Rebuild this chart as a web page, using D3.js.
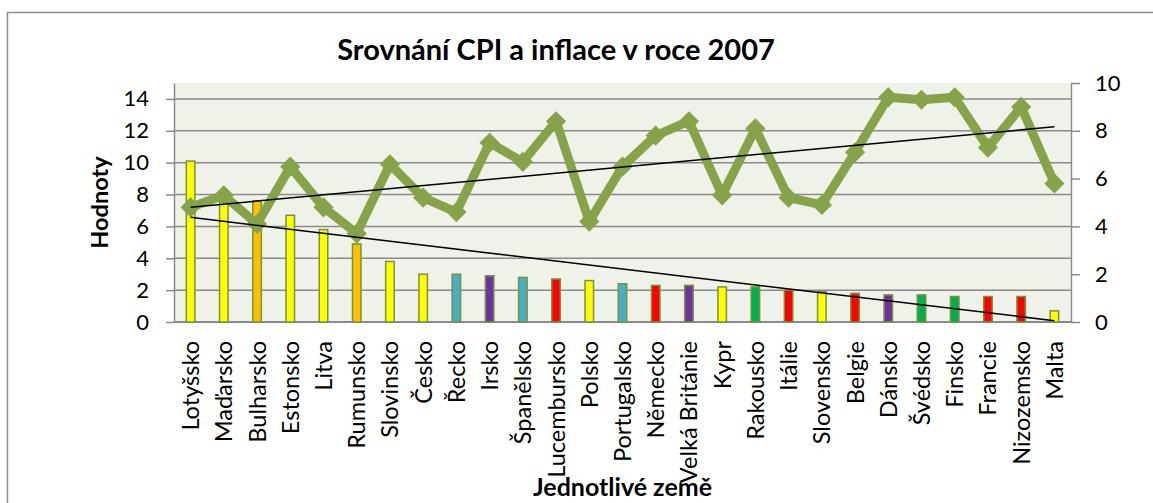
<!DOCTYPE html>
<html>
<head>
<meta charset="utf-8">
<script src="https://cdn.jsdelivr.net/npm/d3@7"></script>
<style>
  html, body { margin: 0; padding: 0; background: #fff; }
  svg { display: block; font-family: Lato, "Liberation Sans", sans-serif; }
</style>
</head>
<body>
<div id="graf"></div>
<script>
/* Srovnání CPI a inflace v roce 2007 — sloupce = inflace (levá osa), čára = CPI (pravá osa) */

const zeme = [
  "Lotyšsko", "Maďarsko", "Bulharsko", "Estonsko", "Litva", "Rumunsko",
  "Slovinsko", "Česko", "Řecko", "Irsko", "Španělsko", "Lucembursko",
  "Polsko", "Portugalsko", "Německo", "Velká Británie", "Kypr", "Rakousko",
  "Itálie", "Slovensko", "Belgie", "Dánsko", "Švédsko", "Finsko",
  "Francie", "Nizozemsko", "Malta",
];
const inflace = [
  10.1, 7.9, 7.6, 6.7, 5.8, 4.9, 3.8, 3.0, 3.0, 2.9, 2.8, 2.7, 2.6, 2.4,
  2.3, 2.3, 2.2, 2.2, 2.0, 1.9, 1.8, 1.7, 1.7, 1.6, 1.6, 1.6, 0.7,
];
const cpi = [
  4.8, 5.3, 4.1, 6.5, 4.8, 3.7, 6.6, 5.2, 4.6, 7.5, 6.7, 8.4, 4.2, 6.5,
  7.8, 8.4, 5.3, 8.1, 5.2, 4.9, 7.1, 9.4, 9.3, 9.4, 7.3, 9.0, 5.8,
];
// spojnice trendu: hodnota u první a poslední země
const trendInflace = [6.57, 0.08];
const trendCpi = [4.8, 8.17];
const tickyLeva = [0, 2, 4, 6, 8, 10, 12, 14];
const tickyPrava = [0, 2, 4, 6, 8, 10];

const Y = "#ffff00", O = "#ffc000", B = "#4bacc6", P = "#7030a0", R = "#ff0000", G = "#00b050";
const barvySloupcu = [
  Y, Y, O, Y, Y, O, Y, Y, B, P, B, R, Y, B, R, P, Y, G, R, Y, R, P, G, G, R, R, Y,
];

const W = 1153, H = 503;
const L = 174, Rt = 1071, T = 83, Bt = 322;
const ZELENA = "#87a34a", MRIZKA = "#8a8a8a";
const PISMO = "Lato, 'Liberation Sans', sans-serif";

const svg = d3.select("#graf").append("svg")
  .attr("width", W).attr("height", H);

svg.append("rect")
  .attr("x", 7.5).attr("y", 12.5).attr("width", 1200).attr("height", 600)
  .attr("fill", "#fff").attr("stroke", "#8c8c8c").attr("stroke-width", 1.5);

const x = d3.scaleBand().domain(zeme).range([L, Rt]);
const yL = d3.scaleLinear().domain([0, 15]).range([Bt, T]);
const yR = d3.scaleLinear().domain([0, 10]).range([Bt, T]);
const stred = (d) => x(d) + x.bandwidth() / 2;

svg.append("rect")
  .attr("x", L).attr("y", T).attr("width", Rt - L).attr("height", Bt - T)
  .attr("fill", "#eff2e9");

svg.append("g").selectAll("line")
  .data(tickyLeva.filter((v) => v > 0)).join("line")
  .attr("x1", L).attr("x2", Rt)
  .attr("y1", (d) => yL(d)).attr("y2", (d) => yL(d))
  .attr("stroke", MRIZKA).attr("stroke-width", 1.5);

// osy
const osaL = svg.append("g").attr("transform", `translate(${L},0)`)
  .call(d3.axisLeft(yL).tickValues(tickyLeva).tickSize(8).tickPadding(17).tickSizeOuter(0));
const osaR = svg.append("g").attr("transform", `translate(${Rt},0)`)
  .call(d3.axisRight(yR).tickValues(tickyPrava).tickSize(9).tickPadding(15).tickSizeOuter(0));
[osaL, osaR].forEach((g) => {
  g.select(".domain").attr("stroke", MRIZKA).attr("stroke-width", 1.5);
  g.selectAll(".tick line").attr("stroke", MRIZKA).attr("stroke-width", 1.5);
  g.selectAll("text").style("font", `22px ${PISMO}`).attr("fill", "#000");
});
svg.append("line")
  .attr("x1", L).attr("x2", Rt).attr("y1", Bt).attr("y2", Bt)
  .attr("stroke", MRIZKA).attr("stroke-width", 2);

// sloupce inflace
const sirka = 8.5;
svg.append("g").selectAll("rect")
  .data(zeme).join("rect")
  .attr("x", (d) => stred(d) - sirka / 2)
  .attr("y", (d, i) => yL(inflace[i]))
  .attr("width", sirka)
  .attr("height", (d, i) => Bt - yL(inflace[i]))
  .attr("fill", (d, i) => barvySloupcu[i])
  .attr("stroke", "#77933c").attr("stroke-width", 1.5);

// čára CPI
svg.append("path")
  .datum(zeme)
  .attr("d", d3.line().x(stred).y((d, i) => yR(cpi[i])))
  .attr("fill", "none").attr("stroke", ZELENA)
  .attr("stroke-width", 9).attr("stroke-linejoin", "round");
svg.append("g").selectAll("path")
  .data(zeme).join("path")
  .attr("transform", (d, i) => `translate(${stred(d)},${yR(cpi[i])})`)
  .attr("d", d3.symbol(d3.symbolDiamond2, 260))
  .attr("fill", ZELENA);

// trendy
const prvni = zeme[0], posledni = zeme[zeme.length - 1];
svg.append("line")
  .attr("x1", stred(prvni)).attr("x2", stred(posledni))
  .attr("y1", yL(trendInflace[0])).attr("y2", yL(trendInflace[1]))
  .attr("stroke", "#000").attr("stroke-width", 1.5);
svg.append("line")
  .attr("x1", stred(prvni)).attr("x2", stred(posledni))
  .attr("y1", yR(trendCpi[0])).attr("y2", yR(trendCpi[1]))
  .attr("stroke", "#000").attr("stroke-width", 1.5);

// popisky zemí
svg.append("g").selectAll("text")
  .data(zeme).join("text")
  .attr("transform", (d) => `translate(${stred(d)},341) rotate(-90)`)
  .attr("text-anchor", "end").attr("dy", "0.36em")
  .style("font", `23.5px ${PISMO}`)
  .text((d) => d);

// titulky
svg.append("text")
  .attr("x", 556).attr("y", 60).attr("text-anchor", "middle")
  .style("font", `700 29px ${PISMO}`)
  .text("Srovnání CPI a inflace v roce 2007");
svg.append("text")
  .attr("transform", `translate(108,${(T + Bt) / 2}) rotate(-90)`)
  .attr("text-anchor", "middle")
  .style("font", `700 23.5px ${PISMO}`)
  .text("Hodnoty");
svg.append("text")
  .attr("x", (L + Rt) / 2).attr("y", 496).attr("text-anchor", "middle")
  .style("font", `700 25px ${PISMO}`)
  .text("Jednotlivé země");
</script>
</body>
</html>
